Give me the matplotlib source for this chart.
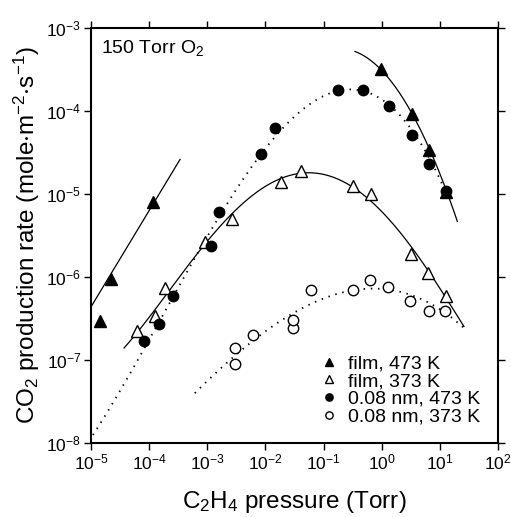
import numpy as np
import matplotlib
matplotlib.use('Agg')
import matplotlib.pyplot as plt
from matplotlib.ticker import LogLocator, LogFormatterSciNotation, NullLocator

plt.rcParams['font.family'] = ['Liberation Sans', 'DejaVu Sans']
plt.rcParams['mathtext.fontset'] = 'custom'
plt.rcParams['mathtext.rm'] = 'Liberation Sans'
plt.rcParams['mathtext.it'] = 'Liberation Sans:italic'
plt.rcParams['mathtext.bf'] = 'Liberation Sans:bold'
plt.rcParams['mathtext.default'] = 'regular'

# ---------------- data (C2H4 pressure in Torr, CO2 rate in mole m^-2 s^-1)
film473_p = [1.43e-5, 2.18e-5, 1.17e-4, 0.99, 3.35, 6.6, 13.0]
film473_r = [2.95e-7, 9.4e-7, 7.9e-6, 3.2e-4, 9.3e-5, 3.4e-5, 1.07e-5]

film373_p = [6.2e-5, 1.25e-4, 1.85e-4, 9.06e-4, 2.7e-3, 1.88e-2, 4.17e-2,
             0.323, 0.667, 3.18, 6.3, 12.7]
film373_r = [2.25e-7, 3.4e-7, 7.3e-7, 2.66e-6, 4.95e-6, 1.4e-5, 1.91e-5,
             1.25e-5, 1.0e-5, 1.87e-6, 1.13e-6, 5.9e-7]

nm473_p = [8.2e-5, 1.46e-4, 2.58e-4, 1.18e-3, 1.6e-3, 8.5e-3, 1.49e-2,
           0.178, 0.468, 1.35, 3.35, 6.6, 13.0]
nm473_r = [1.71e-7, 2.7e-7, 5.9e-7, 2.36e-6, 6.0e-6, 3.06e-5, 6.3e-5,
           1.8e-4, 1.8e-4, 1.16e-4, 5.2e-5, 2.3e-5, 1.1e-5]

nm373_p = [2.97e-3, 2.97e-3, 6.1e-3, 3.03e-2, 3.03e-2, 6.0e-2, 0.315,
           0.634, 1.26, 3.09, 6.4, 12.4]
nm373_r = [8.95e-8, 1.41e-7, 2.0e-7, 2.41e-7, 3.03e-7, 6.97e-7, 7.0e-7,
           9.2e-7, 7.5e-7, 5.19e-7, 3.93e-7, 3.93e-7]

labels = ['film, 473 K', 'film, 373 K', '0.08 nm, 473 K', '0.08 nm, 373 K']

# fitted curves: end points of each drawn fit (pressure, rate)
film473_low_fit = [1.16, -6.36]        # slope, log10(rate) at 1e-5 Torr
film473_low_range = [1e-5, 3.4e-4]
film473_high_ends_p = [0.346, 20.0]
film473_high_ends_r = [5.14e-4, 4.8e-6]
film373_ends_p = [3.7e-5, 26.0]
film373_ends_r = [1.32e-7, 2.64e-7]
nm473_ends_p = [1.08e-5, 13.0]
nm473_ends_r = [1.19e-8, 1.1e-5]
nm373_ends_p = [6.1e-4, 28.0]
nm373_ends_r = [3.97e-8, 2.52e-7]


def logfit(p, r, ends_p, ends_r, deg):
    lp = np.log10(np.concatenate([np.asarray(p, float), ends_p]))
    lr = np.log10(np.concatenate([np.asarray(r, float), ends_r]))
    c = np.polyfit(lp, lr, deg)
    u = np.linspace(np.log10(ends_p[0]), np.log10(ends_p[1]), 300)
    return 10 ** u, 10 ** np.polyval(c, u)


fig = plt.figure(figsize=(5.11, 5.17), dpi=100)
ax = fig.add_axes([91 / 511, 1 - 443 / 517, 407 / 511, 415 / 517])
ax.set_xscale('log')
ax.set_yscale('log')
ax.set_xlim(1e-5, 1e2)
ax.set_ylim(1e-8, 1e-3)

solid = dict(color='black', lw=0.9)
dotted = dict(color='black', lw=1.3, linestyle=(0, (0.8, 3.2)))

# film 473 K fits
u = np.linspace(np.log10(film473_low_range[0]), np.log10(film473_low_range[1]), 50)
ax.plot(10 ** u, 10 ** (film473_low_fit[1] + film473_low_fit[0] * (u + 5)), **solid)
x, y = logfit(film473_p[3:], film473_r[3:], film473_high_ends_p, film473_high_ends_r, 2)
ax.plot(x, y, **solid)
# film 373 K fit
x, y = logfit(film373_p, film373_r, film373_ends_p, film373_ends_r, 4)
ax.plot(x, y, **solid)
# 0.08 nm fits
x, y = logfit(nm473_p, nm473_r, nm473_ends_p, nm473_ends_r, 3)
ax.plot(x, y, **dotted)
x, y = logfit(nm373_p, nm373_r, nm373_ends_p, nm373_ends_r, 3)
ax.plot(x, y, **dotted)

ms_t, ms_c = 8.5, 7.5
h1, = ax.plot(film473_p, film473_r, '^', ms=ms_t, mfc='black', mec='black', ls='none', label=labels[0])
h2, = ax.plot(film373_p, film373_r, '^', ms=ms_t, mfc='white', mec='black', mew=1.0, ls='none', label=labels[1])
h3, = ax.plot(nm473_p, nm473_r, 'o', ms=ms_c, mfc='black', mec='black', ls='none', label=labels[2])
h4, = ax.plot(nm373_p, nm373_r, 'o', ms=ms_c, mfc='white', mec='black', mew=1.0, ls='none', label=labels[3])

leg = ax.legend(handles=[h1, h2, h3, h4], loc='center left',
                bbox_to_anchor=(0.565, 0.127), frameon=False, fontsize=14,
                markerscale=0.7, handlelength=0.8, handletextpad=0.6,
                labelspacing=0.0, borderpad=0, borderaxespad=0)

ax.text(0.024, 0.977, '150 Torr O$_2$', transform=ax.transAxes, fontsize=14,
        ha='left', va='top')

ax.set_xlabel('C$_2$H$_4$ pressure (Torr)', fontsize=17.5)
ax.set_ylabel('CO$_2$ production rate (mole$\\cdot$m$^{-2}$$\\cdot$s$^{-1}$)',
              fontsize=17.5)
ax.xaxis.set_label_coords(0.5, -0.112)
ax.yaxis.set_label_coords(-0.12, 0.5)

for axis in (ax.xaxis, ax.yaxis):
    axis.set_major_locator(LogLocator(base=10, numticks=20))
    axis.set_minor_locator(NullLocator())
    axis.set_major_formatter(LogFormatterSciNotation())
ax.tick_params(which='major', direction='out', length=5, width=1,
               top=True, right=True, labelsize=12.5, pad=2)
for s in ax.spines.values():
    s.set_linewidth(1.5)

fig.savefig('out.png', dpi=100)
